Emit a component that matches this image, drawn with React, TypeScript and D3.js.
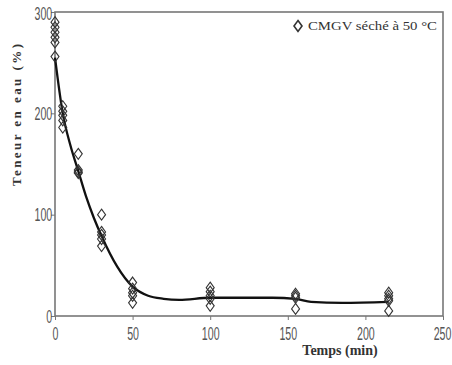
import { useEffect, useRef } from 'react';
import * as d3 from 'd3';

// measured points: time (min) and water content (%)
const pointTimes = [0, 0, 0, 0, 0, 0, 5, 5, 5, 5, 5, 15, 15, 15, 15, 30, 30, 30, 30, 30, 50, 50, 50, 50, 50, 100, 100, 100, 100, 100, 155, 155, 155, 155, 215, 215, 215, 215, 215];
const pointValues = [290, 285, 280, 275, 270, 256, 207, 202, 198, 193, 186, 160, 144, 142, 141, 100, 83, 80, 76, 69, 33, 27, 23, 20, 13, 28, 24, 20, 17, 10, 22, 20, 18, 7, 23, 20, 17, 15, 5];

// fitted curve
const curveTimes = [0, 5, 10, 15, 20, 25, 30, 40, 50, 60, 70, 80, 100, 140, 155, 165, 185, 215];
const curveValues = [255, 200, 168, 143, 118, 97, 79, 49, 29, 20, 17, 16, 18, 18, 17, 14, 13, 14];

const xTicks = [0, 50, 100, 150, 200, 250];
const yTicks = [0, 100, 200, 300];

export default function App() {
  const svgRef = useRef<SVGSVGElement>(null);

  useEffect(() => {
    document.body.style.margin = '0';
    document.body.style.overflow = 'hidden';

    const svg = d3.select(svgRef.current);
    svg.selectAll('*').remove();

    const left = 55, right = 443, top = 12, bottom = 316;
    const x = d3.scaleLinear().domain([0, 250]).range([left, right]);
    const y = d3.scaleLinear().domain([0, 300]).range([bottom, top]);

    svg.append('rect').attr('width', 452).attr('height', 365).attr('fill', 'white');

    // frame
    svg.append('rect')
      .attr('x', left).attr('y', top)
      .attr('width', right - left).attr('height', bottom - top)
      .attr('fill', 'none').attr('stroke', '#777').attr('stroke-width', 1.6);

    const tickFont = '"Liberation Sans", Arial, sans-serif';

    // x axis
    const gx = svg.append('g')
      .attr('transform', `translate(0,${bottom})`)
      .call(d3.axisBottom(x).tickValues(xTicks).tickSize(4).tickPadding(7).tickFormat(d3.format('d')));
    gx.select('.domain').remove();
    gx.selectAll('line').attr('stroke', '#777');
    gx.selectAll('text')
      .attr('fill', '#555')
      .attr('transform', (d: any) => (d === 250 ? 'translate(-1,0) scale(0.56,1)' : 'scale(0.56,1)'))
      .style('font-family', tickFont).style('font-size', '19px');

    // y axis
    const gy = svg.append('g')
      .attr('transform', `translate(${left},0)`)
      .call(d3.axisLeft(y).tickValues(yTicks).tickSize(4).tickPadding(1).tickFormat(d3.format('d')));
    gy.select('.domain').remove();
    gy.selectAll('line').attr('stroke', '#777');
    gy.selectAll('text')
      .attr('fill', '#555')
      .attr('transform', (d: any) => (d === 300 ? 'translate(0,1) scale(0.56,1)' : 'scale(0.56,1)'))
      .style('font-family', tickFont).style('font-size', '19px');

    // axis titles
    svg.append('text')
      .attr('x', 340).attr('y', 355)
      .attr('text-anchor', 'middle')
      .style('font-family', '"Liberation Serif", serif')
      .style('font-weight', 'bold')
      .style('font-size', '14px')
      .attr('fill', '#333')
      .text('Temps (min)');

    svg.append('text')
      .attr('transform', 'translate(21,115) rotate(-90)')
      .attr('text-anchor', 'middle')
      .attr('textLength', 142)
      .attr('lengthAdjust', 'spacing')
      .style('font-family', '"Liberation Serif", serif')
      .style('font-weight', 'bold')
      .style('font-size', '13px')
      .attr('fill', '#333')
      .text('Teneur en eau (%)');

    // fitted curve
    const line = d3.line<number>()
      .x((_, i) => x(curveTimes[i]))
      .y(d => y(d))
      .curve(d3.curveMonotoneX);
    svg.append('path')
      .datum(curveValues)
      .attr('d', line)
      .attr('fill', 'none')
      .attr('stroke', '#111')
      .attr('stroke-width', 2.3);

    // diamonds
    const diamond = 'M0,-5.5L4,0L0,5.5L-4,0Z';
    svg.append('g').selectAll('path')
      .data(pointValues)
      .join('path')
      .attr('d', diamond)
      .attr('transform', (d, i) => `translate(${x(pointTimes[i])},${y(d)})`)
      .attr('fill', 'none')
      .attr('stroke', '#333')
      .attr('stroke-width', 1.1);

    // legend
    svg.append('path')
      .attr('d', diamond)
      .attr('transform', 'translate(298,26)')
      .attr('fill', 'none')
      .attr('stroke', '#333')
      .attr('stroke-width', 1.6);
    svg.append('text')
      .attr('x', 308).attr('y', 30)
      .attr('textLength', 129)
      .attr('lengthAdjust', 'spacingAndGlyphs')
      .style('font-family', '"Liberation Serif", serif')
      .style('font-size', '13px')
      .attr('fill', '#333')
      .text('CMGV séché à 50 °C');
  }, []);

  return (
    <div>
      <svg ref={svgRef} width={452} height={365} style={{ display: 'block' }}></svg>
    </div>
  );
}
